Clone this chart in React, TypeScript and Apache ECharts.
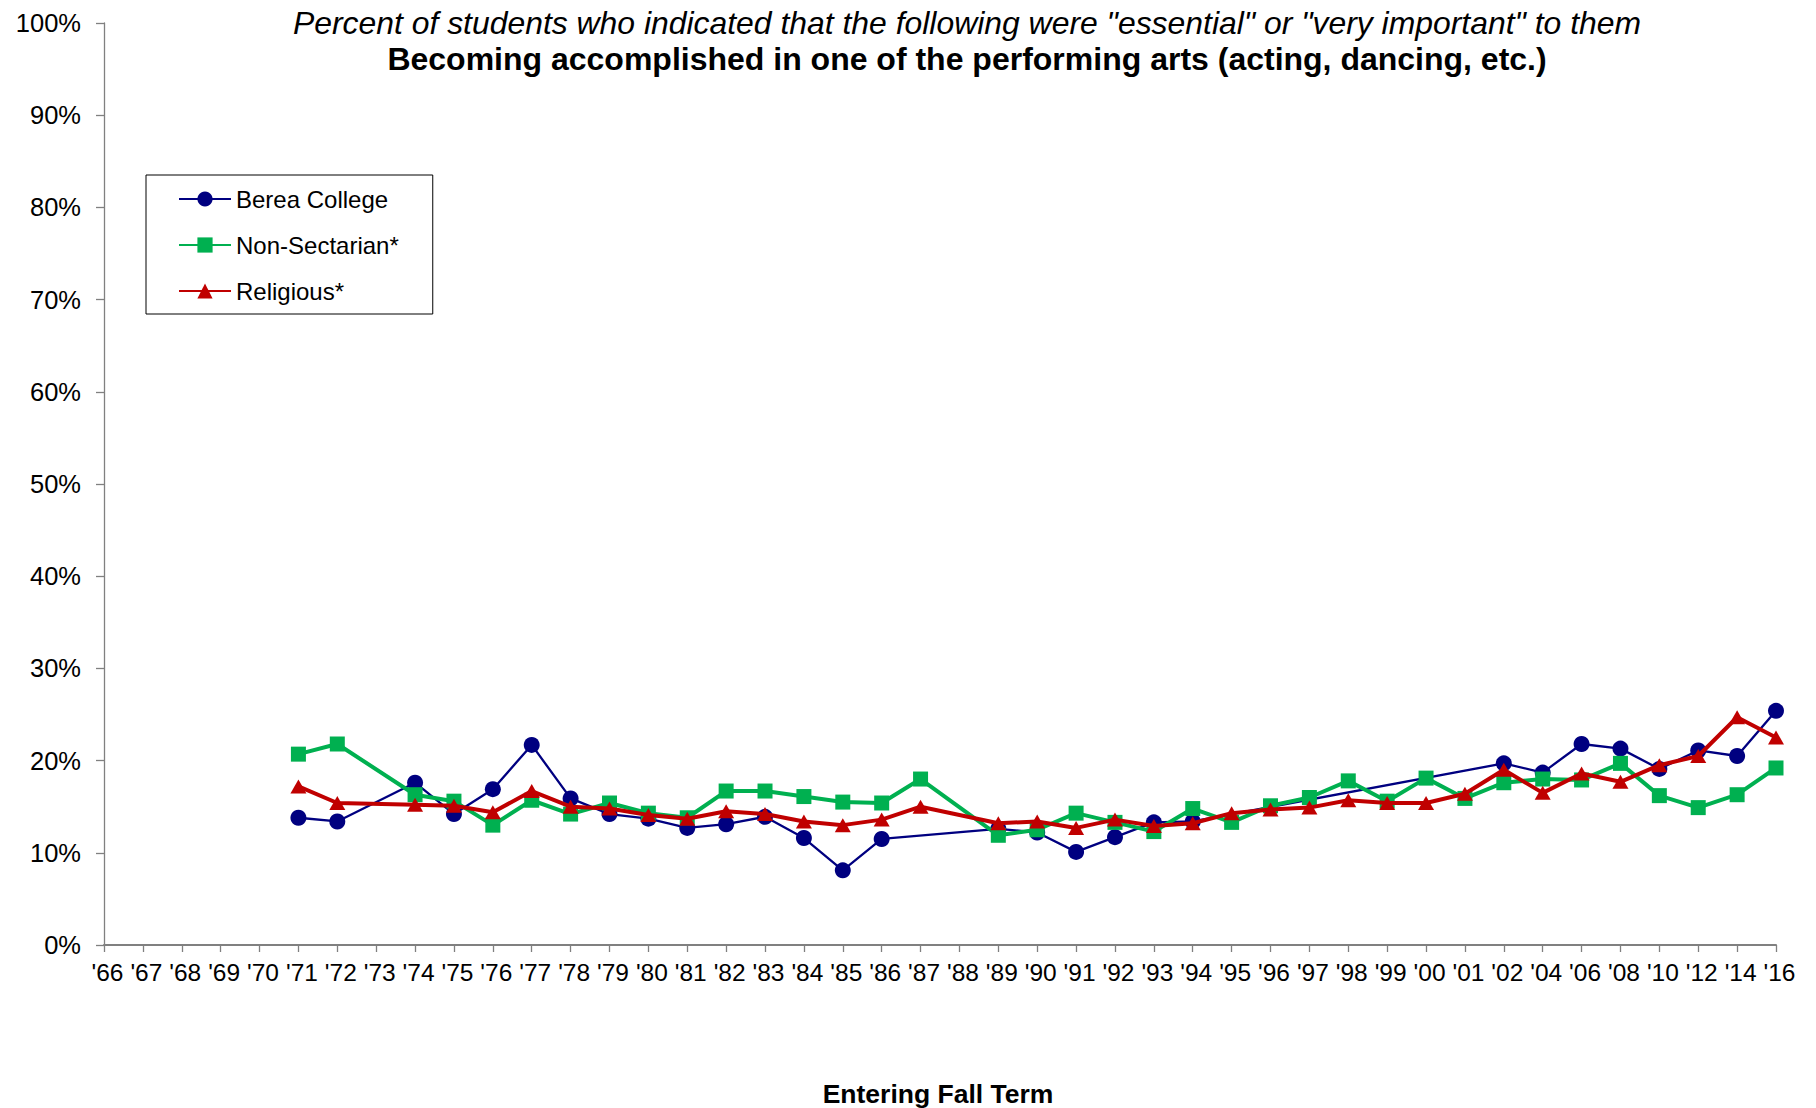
import React, { useEffect, useRef } from "react";
import * as echarts from "echarts";

const categories = [
  "'66", "'67", "'68", "'69", "'70", "'71", "'72", "'73", "'74", "'75",
  "'76", "'77", "'78", "'79", "'80", "'81", "'82", "'83", "'84", "'85",
  "'86", "'87", "'88", "'89", "'90", "'91", "'92", "'93", "'94", "'95",
  "'96", "'97", "'98", "'99", "'00", "'01", "'02", "'04", "'06", "'08",
  "'10", "'12", "'14", "'16",
];

const berea: (number | null)[] = [
  null, null, null, null, null, 13.8, 13.4, null, 17.6, 14.2,
  16.9, 21.7, 15.9, 14.2, 13.7, 12.7, 13.1, 13.9, 11.6, 8.1,
  11.5, null, null, 12.6, 12.2, 10.1, 11.7, 13.3, 13.4, null,
  null, null, null, null, null, null, 19.7, 18.7, 21.8, 21.3,
  19.1, 21.1, 20.5, 25.4,
];

const nonSectarian: (number | null)[] = [
  null, null, null, null, null, 20.7, 21.8, null, 16.3, 15.6,
  13.0, 15.7, 14.2, 15.4, 14.3, 13.8, 16.7, 16.7, 16.1, 15.5,
  15.4, 18.0, null, 11.9, 12.5, 14.3, 13.3, 12.3, 14.8, 13.3,
  15.1, 16.0, 17.8, 15.6, 18.1, 15.9, 17.6, 18.0, 17.9, 19.7,
  16.2, 14.9, 16.3, 19.2,
];

const religious: (number | null)[] = [
  null, null, null, null, null, 17.2, 15.4, null, 15.2, 15.1,
  14.4, 16.7, 15.0, 14.8, 14.1, 13.7, 14.5, 14.2, 13.4, 13.0,
  13.6, 15.0, null, 13.2, 13.4, 12.7, 13.6, 12.9, 13.2, 14.3,
  14.7, 14.9, 15.7, 15.4, 15.4, 16.4, 19.0, 16.5, 18.6, 17.7,
  19.5, 20.5, 24.7, 22.5,
];

const titleLine1 =
  'Percent of students who indicated that the following were "essential" or "very important" to them';
const titleLine2 =
  "Becoming accomplished in one of the performing arts (acting, dancing, etc.)";
const xAxisTitle = "Entering Fall Term";

const FONT = "Liberation Sans, Arial, sans-serif";

export default function App() {
  const ref = useRef<HTMLDivElement>(null);

  useEffect(() => {
    if (!ref.current) return;
    const chart = echarts.init(ref.current, null, { renderer: "svg" });
    chart.setOption({
      animation: false,
      backgroundColor: "#ffffff",
      title: [
        {
          text: titleLine1,
          left: 967,
          top: 7,
          textAlign: "center",
          padding: 0,
          textStyle: {
            fontFamily: FONT,
            fontSize: 31.9,
            fontStyle: "italic",
            fontWeight: "normal",
            color: "#000",
          },
        },
        {
          text: titleLine2,
          left: 967,
          top: 43,
          textAlign: "center",
          padding: 0,
          textStyle: {
            fontFamily: FONT,
            fontSize: 32,
            fontWeight: "bold",
            color: "#000",
          },
        },
        {
          text: xAxisTitle,
          left: 938,
          top: 1080,
          textAlign: "center",
          padding: 0,
          textStyle: {
            fontFamily: FONT,
            fontSize: 26.5,
            fontWeight: "bold",
            color: "#000",
          },
        },
      ],
      legend: {
        orient: "vertical",
        left: 146,
        top: 175,
        padding: [12, 34, 11, 32],
        itemGap: 22,
        itemWidth: 52,
        itemHeight: 19,
        borderColor: "#000",
        borderWidth: 1,
        textStyle: { fontFamily: FONT, fontSize: 24, color: "#000", lineHeight: 24 },
        data: ["Berea College", "Non-Sectarian*", "Religious*"],
      },
      grid: { left: 104, right: 40, top: 23, bottom: 163, containLabel: false },
      xAxis: {
        type: "category",
        data: categories,
        boundaryGap: false,
        axisLine: { show: true, lineStyle: { color: "#808080", width: 2 } },
        axisTick: { show: true, interval: 0, length: 7, lineStyle: { color: "#808080", width: 1.3 } },
        axisLabel: {
          interval: 0,
          margin: 15,
          padding: [0, 0, 0, 7],
          fontFamily: FONT,
          fontSize: 24.5,
          color: "#000",
        },
        splitLine: { show: false },
      },
      yAxis: {
        type: "value",
        min: 0,
        max: 100,
        interval: 10,
        axisLine: { show: true, lineStyle: { color: "#808080", width: 1.3 } },
        axisTick: { show: true, length: 8, lineStyle: { color: "#808080", width: 1.3 } },
        axisLabel: { formatter: "{value}%", margin: 23, fontFamily: FONT, fontSize: 25.5, color: "#000" },
        splitLine: { show: false },
      },
      series: [
        {
          name: "Berea College",
          type: "line",
          data: berea,
          connectNulls: true,
          symbol: "circle",
          symbolSize: 16,
          itemStyle: { color: "#000080" },
          lineStyle: { color: "#000080", width: 2.3 },
          emphasis: { disabled: true },
          z: 2,
        },
        {
          name: "Non-Sectarian*",
          type: "line",
          data: nonSectarian,
          connectNulls: true,
          symbol: "rect",
          symbolSize: 15,
          itemStyle: { color: "#00B050" },
          lineStyle: { color: "#00B050", width: 4 },
          emphasis: { disabled: true },
          z: 3,
        },
        {
          name: "Religious*",
          type: "line",
          data: religious,
          connectNulls: true,
          symbol: "triangle",
          symbolSize: [16, 14],
          itemStyle: { color: "#C00000" },
          lineStyle: { color: "#C00000", width: 4 },
          emphasis: { disabled: true },
          z: 4,
        },
      ],
    });
    return () => chart.dispose();
  }, []);

  return (
    <div
      ref={ref}
      style={{ position: "fixed", left: 0, top: 0, width: 1816, height: 1108, background: "#fff" }}
    />
  );
}
